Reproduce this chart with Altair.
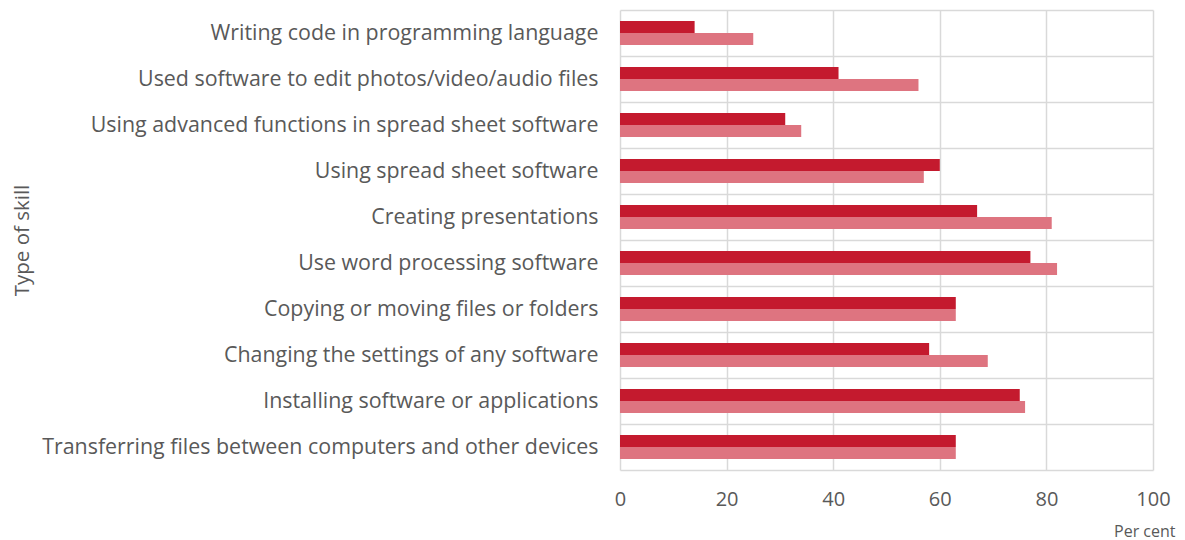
import altair as alt
import pandas as pd

skills = [
    "Writing code in programming language",
    "Used software to edit photos/video/audio files",
    "Using advanced functions in spread sheet software",
    "Using spread sheet software",
    "Creating presentations",
    "Use word processing software",
    "Copying or moving files or folders",
    "Changing the settings of any software",
    "Installing software or applications",
    "Transferring files between computers and other devices",
]
series_names = ["Series A", "Series B"]
series_a = [14, 41, 31, 60, 67, 77, 63, 58, 75, 63]
series_b = [25, 56, 34, 57, 81, 82, 63, 69, 76, 63]
colors = ["#C41A2E", "#DE7480"]

rows = []
for s, a, b in zip(skills, series_a, series_b):
    rows.append({"skill": s, "series": series_names[0], "value": a})
    rows.append({"skill": s, "series": series_names[1], "value": b})
df = pd.DataFrame(rows)

FONT = "Open Sans"
TXT = "#595959"
GRID = "#D9D9D9"

chart = alt.Chart(df).mark_bar().encode(
    x=alt.X("value:Q",
            scale=alt.Scale(domain=[0, 100]),
            axis=alt.Axis(values=[0, 20, 40, 60, 80, 100], title="Per cent",
                          titleAnchor="end", titleAlign="right",
                          titleX=555, titleY=66, titleBaseline="alphabetic",
                          titleFontSize=16, titleFontWeight="normal",
                          labelFontSize=20, labelPadding=19, ticks=False,
                          labelFlush=False, labelOverlap=False,
                          domain=False, grid=True)),
    y=alt.Y("skill:N", sort=skills,
            scale=alt.Scale(paddingInner=0, paddingOuter=0),
            axis=alt.Axis(title="Type of skill", titleAngle=-90,
                          titleX=-598, titleY=230, titleAlign="center",
                          titleBaseline="middle", titleFontSize=20.5,
                          titleFontWeight="normal",
                          labelFontSize=21.4, labelPadding=22, ticks=False,
                          domain=False, grid=True, tickBand="extent",
                          labelLimit=700)),
    yOffset=alt.YOffset("series:N", sort=series_names,
                        scale=alt.Scale(paddingInner=0, paddingOuter=0.9167)),
    color=alt.Color("series:N", sort=series_names,
                    scale=alt.Scale(domain=series_names, range=colors),
                    legend=None),
).properties(
    width=533, height=460,
    autosize=alt.AutoSizeParams(type="none"),
    padding={"left": 612, "top": 2, "right": 24, "bottom": 72},
).configure_view(
    stroke=None
).configure_axis(
    labelFont=FONT, titleFont=FONT, labelColor=TXT, titleColor=TXT,
    gridColor=GRID, gridWidth=1.5, gridOpacity=1
)

chart.save("out.html", embed_options={"renderer": "svg", "actions": False})
